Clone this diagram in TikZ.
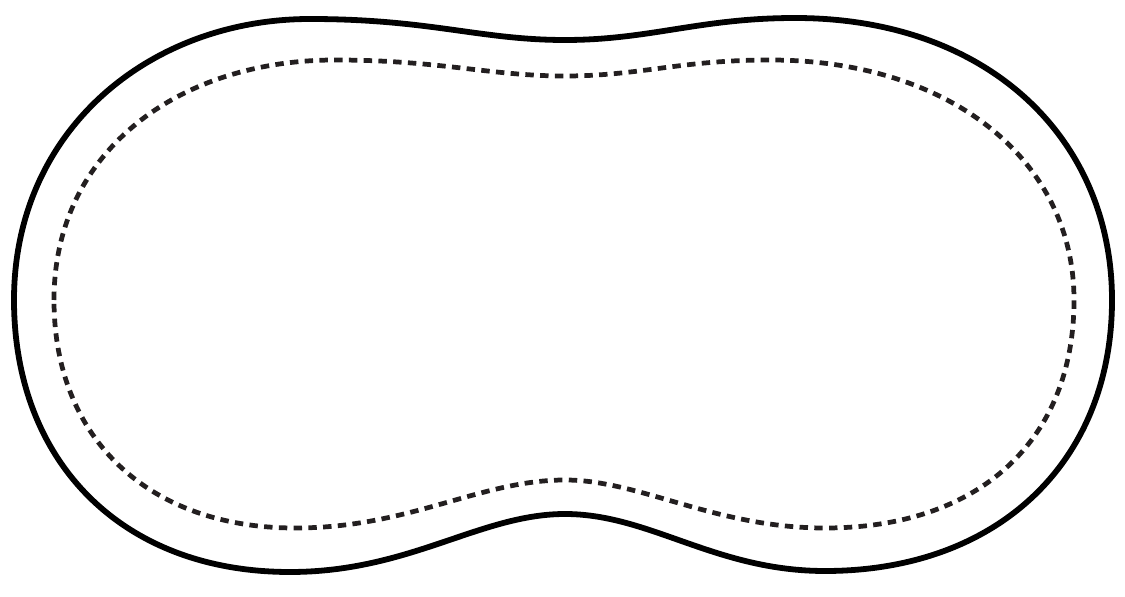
\documentclass[tikz,border=0pt]{standalone}
\usepackage{tikz}
\definecolor{outline}{RGB}{0, 0, 0}
\definecolor{dashgray}{RGB}{35, 31, 32}

\begin{document}
\begin{tikzpicture}[x=0.02cm, y=-0.02cm,
    rim/.style={draw=outline, line width=3.3pt, line join=round},
    inner rim/.style={draw=dashgray, line width=2.7pt, dash pattern=on 4.8pt off 3.6pt}]
            \useasboundingbox                                          (0, 0) rectangle (1125, 597);
            \draw[rim]      (14, 300) .. controls (14, 130) and (150, 19) .. (310, 19)
                                      .. controls (430, 19) and (480, 40) .. (565, 40)
                                      .. controls (650, 40) and (700, 18) .. (795, 18)
                                      .. controls (990, 18) and (1112, 140) .. (1112, 300)
                                      .. controls (1112, 460) and (1000, 571) .. (825, 571)
                                      .. controls (715, 571) and (650, 514) .. (565, 514)
                                      .. controls (480, 514) and (410, 572) .. (290, 572)
                                      .. controls (120, 572) and (14, 460) .. (14, 300) -- cycle;
            \draw[inner rim] (54, 300) .. controls (54, 150) and (180, 60) .. (335, 60)
                                      .. controls (440, 60) and (490, 76) .. (565, 76)
                                      .. controls (640, 76) and (680, 60) .. (770, 60)
                                      .. controls (950, 60) and (1074, 160) .. (1074, 300)
                                      .. controls (1074, 440) and (980, 528) .. (825, 528)
                                      .. controls (715, 528) and (640, 480) .. (565, 480)
                                      .. controls (480, 480) and (410, 528) .. (295, 528)
                                      .. controls (150, 528) and (54, 440) .. (54, 300) -- cycle;
        \end{tikzpicture}
\end{document}
